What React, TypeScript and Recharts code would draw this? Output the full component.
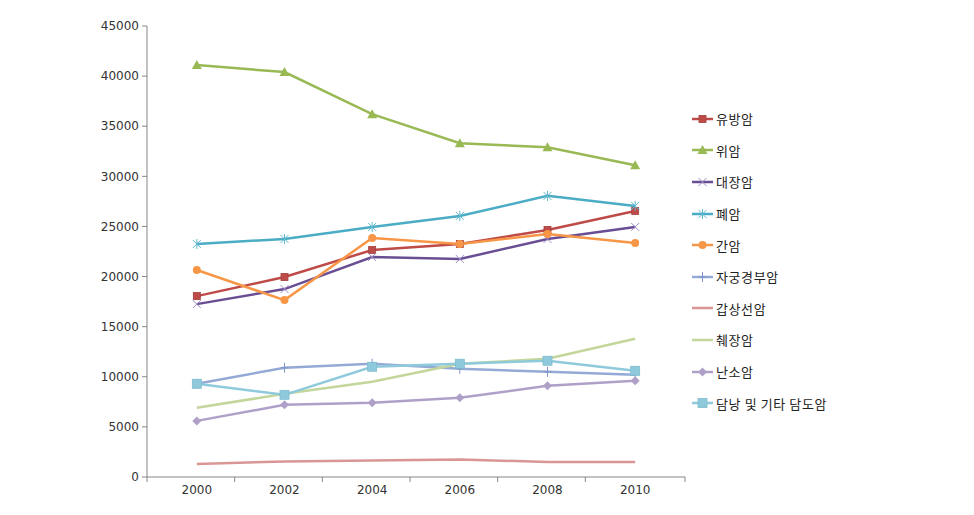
import React from 'react';
import { LineChart, Line, XAxis, YAxis } from 'recharts';

const years = ['2000', '2002', '2004', '2006', '2008', '2010'];
const yTicks = [0, 5000, 10000, 15000, 20000, 25000, 30000, 35000, 40000, 45000];

const breast = [18050, 19950, 22650, 23250, 24650, 26550];
const stomach = [41100, 40400, 36200, 33300, 32900, 31100];
const colorectal = [17250, 18750, 21950, 21750, 23750, 24950];
const lung = [23250, 23750, 24950, 26050, 28050, 27050];
const liver = [20650, 17650, 23850, 23250, 24250, 23350];
const cervix = [9300, 10900, 11300, 10800, 10500, 10200];
const thyroid = [1300, 1550, 1650, 1750, 1500, 1500];
const pancreas = [6900, 8300, 9500, 11300, 11800, 13800];
const ovary = [5600, 7200, 7400, 7900, 9100, 9600];
const gallbladder = [9300, 8200, 11000, 11300, 11600, 10600];

const seriesNames = ['유방암', '위암', '대장암', '폐암', '간암', '자궁경부암', '갑상선암', '췌장암', '난소암', '담낭 및 기타 담도암'];
const seriesValues = [breast, stomach, colorectal, lung, liver, cervix, thyroid, pancreas, ovary, gallbladder];
const seriesColors = ['#BE4B48', '#98B954', '#6A4E94', '#4AACC5', '#F79646', '#95A9D6', '#D99694', '#C3D69B', '#AFA0C8', '#8ECADC'];
const seriesMarkers = ['square', 'triangle', 'x', 'star', 'circle', 'plus', 'none', 'none', 'diamond', 'bigsquare'];

const data = years.map((y, i) => {
  const row: Record<string, string | number> = { year: y };
  seriesNames.forEach((n, s) => {
    row['s' + s] = seriesValues[s][i];
  });
  return row;
});

const W = 966;
const H = 507;
const MARGIN = { top: 18, right: 289, left: 79, bottom: 8 };
const PLOT_W = W - MARGIN.left - MARGIN.right;
const HALF_BAND = PLOT_W / years.length / 2;
const AXIS = '#868686';
const FONT = '"DejaVu Sans", sans-serif';
const LEGEND_FONT = '"Noto Sans CJK KR", sans-serif';

function markerShape(kind: string, color: string, cx: number, cy: number, key?: string | number) {
  switch (kind) {
    case 'square':
      return <rect key={key} x={cx - 3.5} y={cy - 3.5} width={7} height={7} fill={color} stroke="#A33E3B" strokeWidth={0.8} />;
    case 'bigsquare':
      return <rect key={key} x={cx - 4.5} y={cy - 4.5} width={9} height={9} fill={color} stroke="#7FBCCE" strokeWidth={0.8} />;
    case 'triangle':
      return <polygon key={key} points={`${cx},${cy - 5} ${cx + 5},${cy + 4} ${cx - 5},${cy + 4}`} fill={color} />;
    case 'circle':
      return <circle key={key} cx={cx} cy={cy} r={4} fill={color} />;
    case 'diamond':
      return <polygon key={key} points={`${cx},${cy - 4.5} ${cx + 4.5},${cy} ${cx},${cy + 4.5} ${cx - 4.5},${cy}`} fill={color} />;
    case 'x':
      return (
        <g key={key} stroke="#9C8CC6" strokeWidth={1}>
          <line x1={cx - 4} y1={cy - 4} x2={cx + 4} y2={cy + 4} />
          <line x1={cx - 4} y1={cy + 4} x2={cx + 4} y2={cy - 4} />
        </g>
      );
    case 'star':
      return (
        <g key={key} stroke="#62B8CF" strokeWidth={1}>
          <line x1={cx - 4} y1={cy - 4} x2={cx + 4} y2={cy + 4} />
          <line x1={cx - 4} y1={cy + 4} x2={cx + 4} y2={cy - 4} />
          <line x1={cx} y1={cy - 5} x2={cx} y2={cy + 5} />
        </g>
      );
    case 'plus':
      return (
        <g key={key} stroke="#7F94C8" strokeWidth={1}>
          <line x1={cx} y1={cy - 5} x2={cx} y2={cy + 5} />
          <line x1={cx - 4} y1={cy} x2={cx + 4} y2={cy} />
        </g>
      );
    default:
      return <g key={key} />;
  }
}

const makeDot = (kind: string, color: string) => (props: any) => {
  const { cx, cy, index } = props;
  if (cx == null || cy == null) return <g key={'d' + index} />;
  return markerShape(kind, color, cx, cy, 'd' + index);
};

const XTick = (props: any) => {
  const { x, y, payload, index } = props;
  const isLast = index === years.length - 1;
  return (
    <g>
      <line x1={x - HALF_BAND} y1={y} x2={x - HALF_BAND} y2={y + 5} stroke={AXIS} />
      {isLast && <line x1={x + HALF_BAND} y1={y} x2={x + HALF_BAND} y2={y + 5} stroke={AXIS} />}
      <text x={x} y={y + 17} textAnchor="middle" fontSize={12} fontFamily={FONT} fill="#333">
        {payload.value}
      </text>
    </g>
  );
};

const LegendBox = () => (
  <div style={{ position: 'absolute', left: 684, top: 95, fontFamily: LEGEND_FONT, fontSize: 13, color: '#222' }}>
    {seriesNames.map((n, i) => (
      <div key={n} style={{ height: 31.6, display: 'flex', alignItems: 'center' }}>
        <svg width={24} height={12} style={{ display: 'block' }}>
          <line x1={0} y1={6} x2={21} y2={6} stroke={seriesColors[i]} strokeWidth={2.5} />
          {markerShape(seriesMarkers[i], seriesColors[i], 10.5, 6)}
        </svg>
        <span style={{ letterSpacing: 0.6, whiteSpace: 'nowrap' }}>{n}</span>
      </div>
    ))}
  </div>
);

export default function App() {
  return (
    <div style={{ position: 'relative', width: W, height: H, background: '#fff' }}>
      <LineChart width={W} height={H} data={data} margin={MARGIN}>
        <XAxis
          dataKey="year"
          padding={{ left: HALF_BAND, right: HALF_BAND }}
          axisLine={{ stroke: AXIS }}
          tickLine={false}
          tickSize={0}
          tickMargin={0}
          height={30}
          tick={<XTick />}
          interval={0}
        />
        <YAxis
          domain={[0, 45000]}
          ticks={yTicks}
          width={60}
          tickSize={5}
          tickMargin={3}
          axisLine={{ stroke: AXIS }}
          tickLine={{ stroke: AXIS }}
          tick={{ fontSize: 12, fontFamily: FONT, fill: '#333' }}
          interval={0}
        />
        {seriesNames.map((n, i) => (
          <Line
            key={n}
            type="linear"
            dataKey={'s' + i}
            name={n}
            stroke={seriesColors[i]}
            strokeWidth={2.5}
            dot={makeDot(seriesMarkers[i], seriesColors[i])}
            activeDot={false}
            isAnimationActive={false}
          />
        ))}
      </LineChart>
      <LegendBox />
    </div>
  );
}
